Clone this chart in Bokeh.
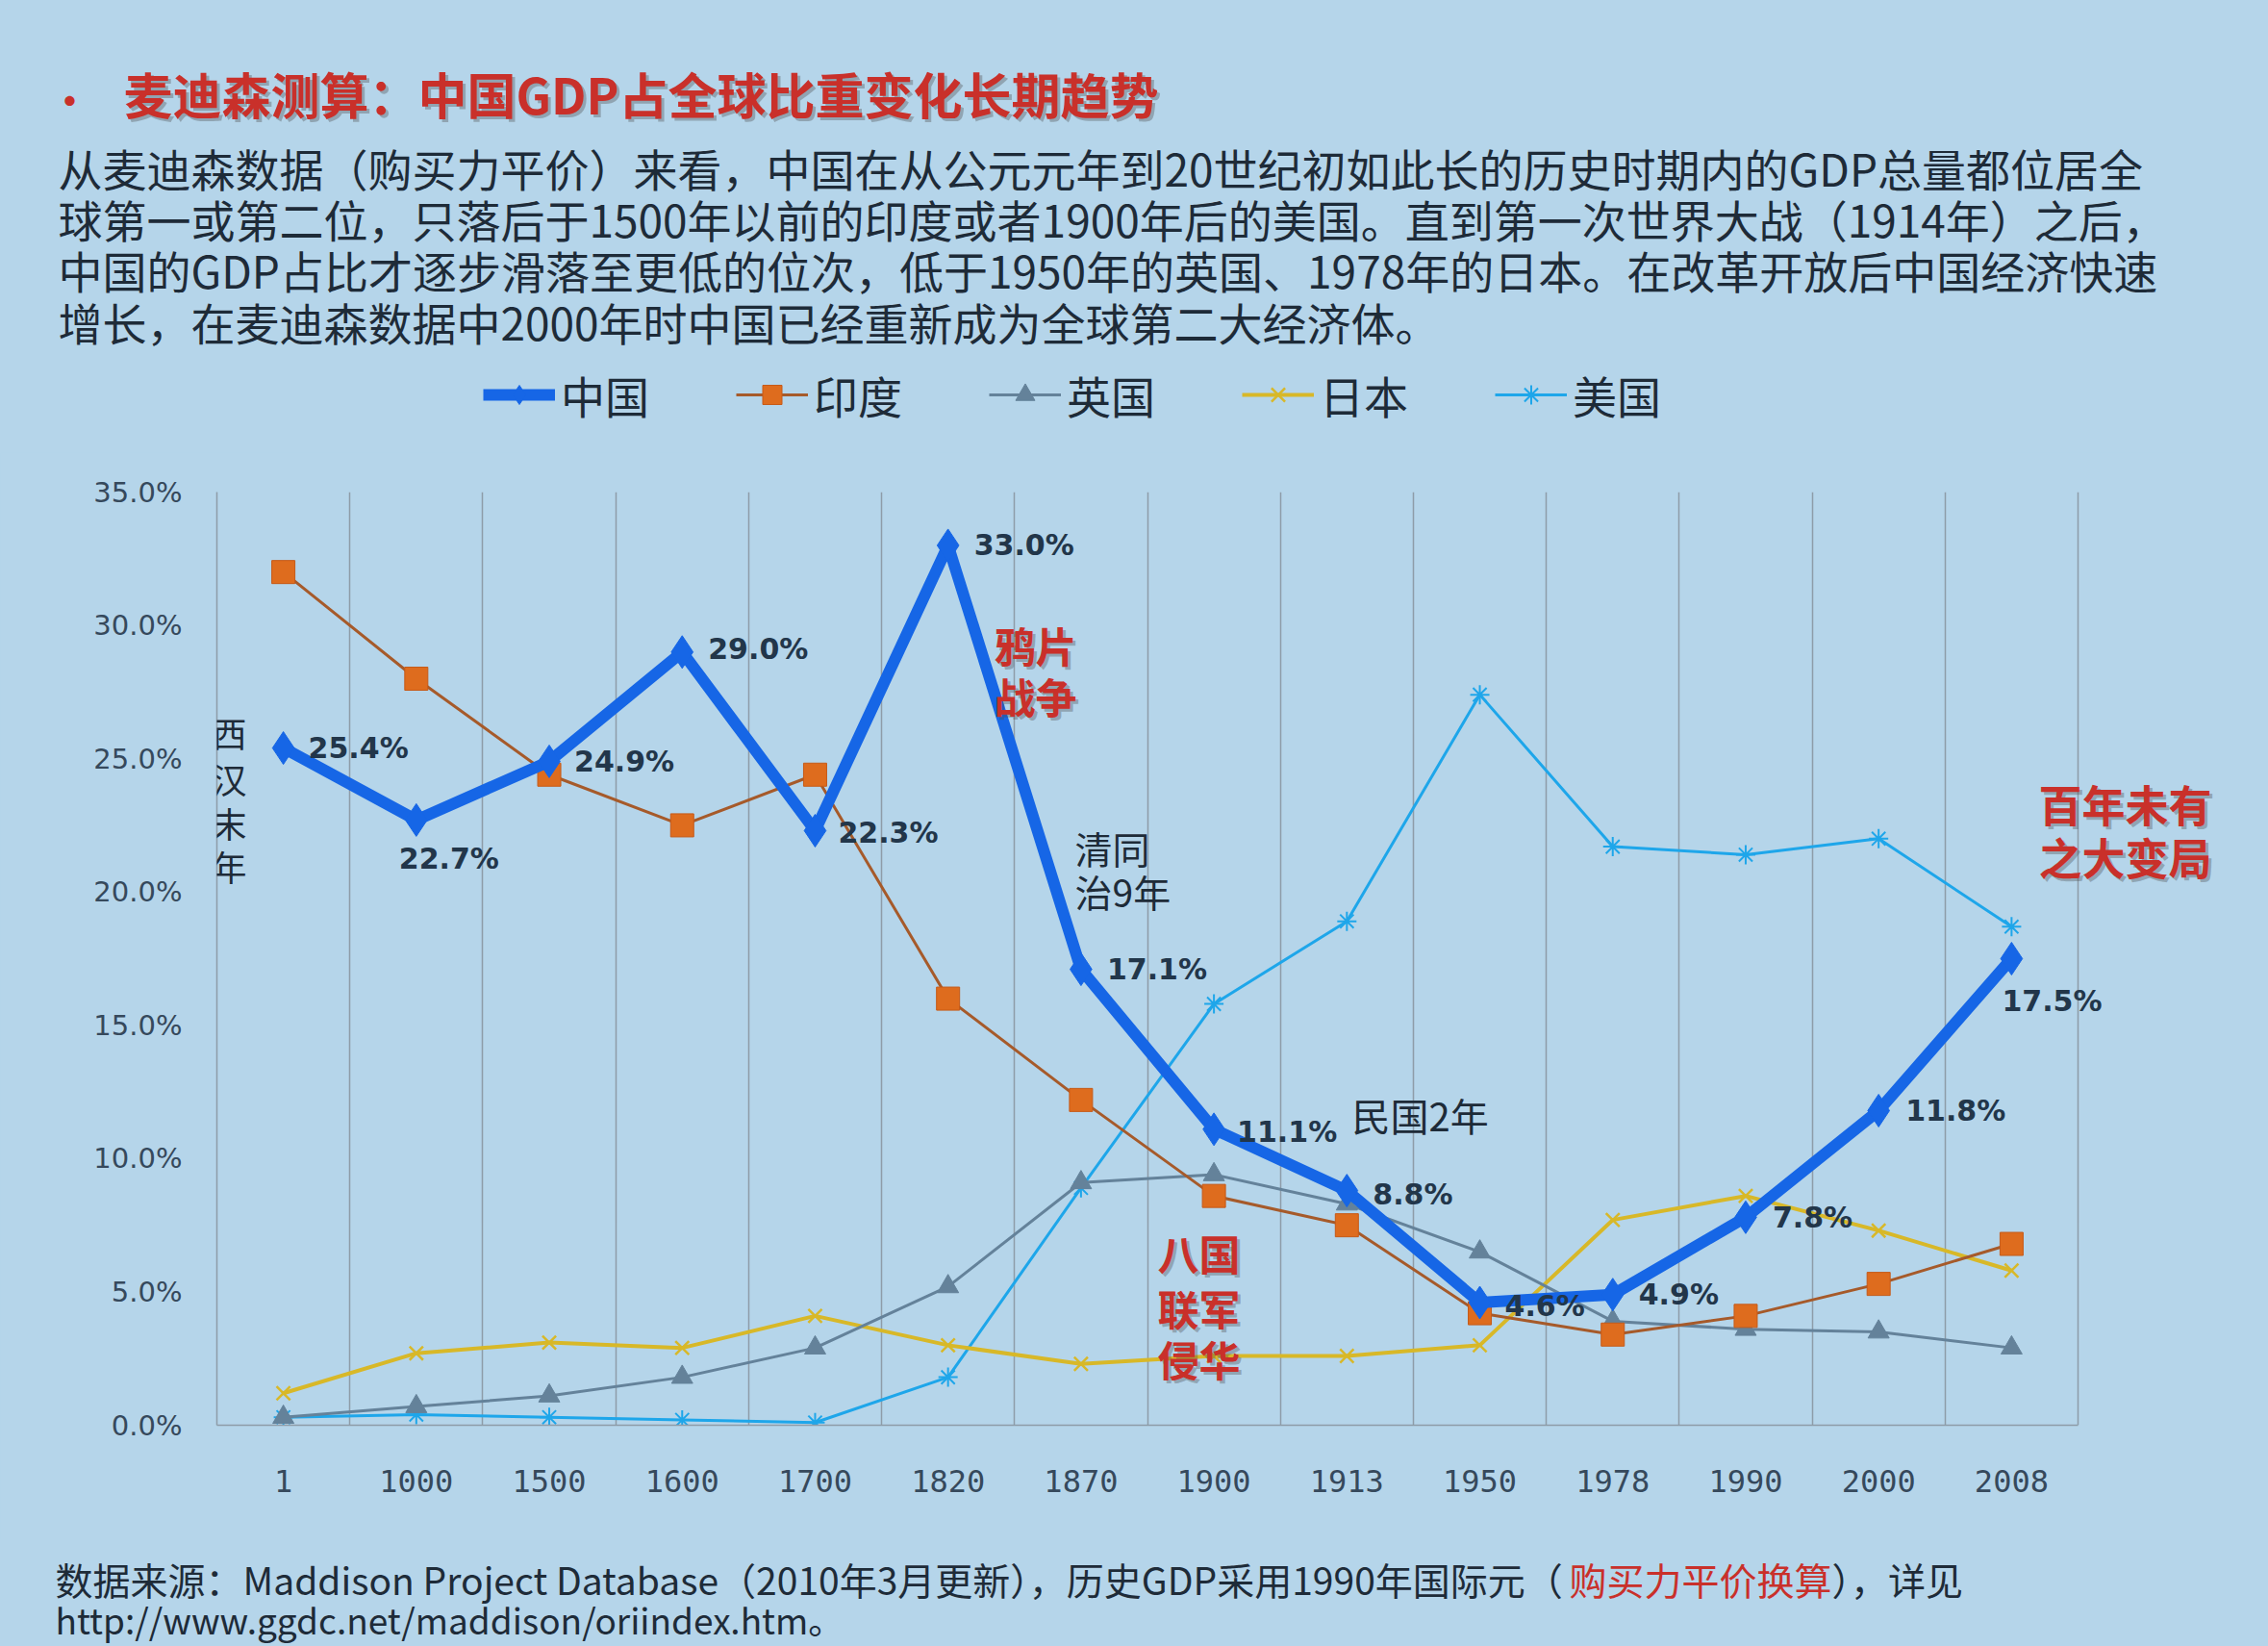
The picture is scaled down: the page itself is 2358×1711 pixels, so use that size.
from bokeh.plotting import figure
from bokeh.layouts import column
from bokeh.models import Range1d, FixedTicker, PrintfTickFormatter, Label, Legend, LegendItem
from bokeh.embed import file_html
from bokeh.resources import INLINE
from bokeh.core.properties import value

# ---------------- data ----------------
years = ["1", "1000", "1500", "1600", "1700", "1820", "1870", "1900", "1913",
         "1950", "1978", "1990", "2000", "2008"]
china = [25.4, 22.7, 24.9, 29.0, 22.3, 33.0, 17.1, 11.1, 8.8, 4.6, 4.9, 7.8, 11.8, 17.5]
india = [32.0, 28.0, 24.4, 22.5, 24.4, 16.0, 12.2, 8.6, 7.5, 4.2, 3.4, 4.1, 5.3, 6.8]
uk = [0.3, 0.7, 1.1, 1.8, 2.9, 5.2, 9.1, 9.4, 8.3, 6.5, 3.9, 3.6, 3.5, 2.9]
japan = [1.2, 2.7, 3.1, 2.9, 4.1, 3.0, 2.3, 2.6, 2.6, 3.0, 7.7, 8.6, 7.3, 5.8]
usa = [0.3, 0.4, 0.3, 0.2, 0.1, 1.8, 8.9, 15.8, 18.9, 27.4, 21.7, 21.4, 22.0, 18.7]
series_names = ["中国", "印度", "英国", "日本", "美国"]
y_ticks = [0, 5, 10, 15, 20, 25, 30, 35]

# ---------------- layout constants (page pixels) ----------------
W, H = 2358, 1711
TOP_H = 470            # header figure height
BOT_Y = 1600           # footer figure starts here
FL, FR, FT, FB = 225, 2160, 511, 1481   # plot area of the chart
FR_EXT = W - 20        # frame extends to the right (for the side annotation)
X0 = -0.5
XN = len(years) - 0.5
X1 = X0 + (XN - X0) * (FR_EXT - FL) / (FR - FL)
Y0, Y1 = 0.0, float(y_ticks[-1])

BG = "#b5d5ea"
GRID = "#8e9ca8"
DARK = "#1e2b38"
RED = "#c9302a"
CJK = "Noto Sans CJK SC"

C_CN = "#1666e6"
C_IN_L = "#a65a2a"
C_IN_M = "#de6c1e"
C_UK = "#64829a"
C_JP = "#d8b828"
C_US = "#1ea6ea"


def px2x(px):
    return X0 + (px - FL) / (FR - FL) * (XN - X0)


def py2y(py):
    return Y0 + (FB - py) / (FB - FT) * (Y1 - Y0)


def style_bare(fig):
    fig.background_fill_color = None
    fig.border_fill_color = BG
    fig.outline_line_color = None
    fig.grid.visible = False


def add_label(fig, txt, x, y, size, color=DARK, bold=False, align="left", shadow=None):
    if shadow is not None:
        sx, sy = shadow
        fig.add_layout(Label(x=sx, y=sy, text=txt, text_font=CJK,
                             text_font_size=f"{size}px", text_color="#4a4a4a", text_alpha=0.35,
                             text_font_style="bold" if bold else "normal",
                             text_align=align, text_baseline="middle"))
    fig.add_layout(Label(x=x, y=y, text=txt, text_font=CJK,
                         text_font_size=f"{size}px", text_color=color,
                         text_font_style="bold" if bold else "normal",
                         text_align=align, text_baseline="middle"))


# ================= header figure =================
top = figure(width=W, height=TOP_H, x_range=Range1d(0, W), y_range=Range1d(TOP_H, 0),
             output_backend="svg", toolbar_location=None, frame_align=False,
             x_axis_location=None, y_axis_location=None, min_border=0)
style_bare(top)


def put_top(txt, px, py, size, color=DARK, bold=False, shadow=False):
    add_label(top, txt, px, py, size, color, bold, "left",
              (px + 3, py + 3) if shadow else None)


put_top("•", 52, 102, 40, RED, bold=True)
put_top("麦迪森测算：中国GDP占全球比重变化长期趋势", 128, 96, 51, RED, bold=True, shadow=True)

para = [
    "从麦迪森数据（购买力平价）来看，中国在从公元元年到20世纪初如此长的历史时期内的GDP总量都位居全",
    "球第一或第二位，只落后于1500年以前的印度或者1900年后的美国。直到第一次世界大战（1914年）之后，",
    "中国的GDP占比才逐步滑落至更低的位次，低于1950年的英国、1978年的日本。在改革开放后中国经济快速",
    "增长，在麦迪森数据中2000年时中国已经重新成为全球第二大经济体。",
]
for line, py in zip(para, [173, 226, 279, 333]):
    put_top(line, 60, py, 46)

# legend swatches: hidden copies of each series' style
swatch_specs = [
    (china, dict(color=C_CN, line_width=12), dict(marker="diamond", size=34, fill_color=C_CN, line_color=C_CN)),
    (india, dict(color=C_IN_L, line_width=3), dict(marker="square", size=22, fill_color=C_IN_M, line_color="#c65a18")),
    (uk, dict(color=C_UK, line_width=3), dict(marker="triangle", size=22, fill_color=C_UK, line_color=C_UK)),
    (japan, dict(color=C_JP, line_width=4), dict(marker="x", size=22, line_color=C_JP, line_width=2.5)),
    (usa, dict(color=C_US, line_width=3), dict(marker="asterisk", size=22, line_color=C_US, line_width=2)),
]
items = []
for name, (vals, lkw, mkw) in zip(series_names, swatch_specs):
    rl = top.line([0], [vals[0]], visible=False, **lkw)
    rm = top.scatter([0], [vals[0]], visible=False, **mkw)
    items.append(LegendItem(label=name, renderers=[rl, rm]))

legend = Legend(items=items, orientation="horizontal", location=(502, TOP_H - 418 - 25))
legend.background_fill_alpha = 0
legend.border_line_alpha = 0
legend.inactive_fill_alpha = 0
legend.padding = 0
legend.margin = 0
legend.spacing = 90
legend.glyph_width = 75
legend.glyph_height = 50
legend.label_height = 50
legend.label_standoff = 6
legend.label_text_font = CJK
legend.label_text_font_size = "46px"
legend.label_text_color = DARK
top.add_layout(legend)

# ================= chart figure =================
p = figure(width=W, height=BOT_Y - TOP_H, x_range=Range1d(X0, X1), y_range=Range1d(Y0, Y1),
           output_backend="svg", toolbar_location=None, frame_align=False,
           min_border_left=FL, min_border_right=W - FR_EXT,
           min_border_top=FT - TOP_H, min_border_bottom=BOT_Y - FB)
p.background_fill_color = None
p.border_fill_color = BG
p.outline_line_color = None

p.ygrid.visible = False
p.xgrid.ticker = FixedTicker(ticks=[i - 0.5 for i in range(len(years) + 1)])
p.xgrid.grid_line_color = GRID
p.xgrid.grid_line_width = 1.5

xs = list(range(len(years)))
p.xaxis.ticker = FixedTicker(ticks=xs)
p.xaxis.major_label_overrides = {i: y for i, y in enumerate(years)}
p.xaxis.bounds = (X0, XN)
p.yaxis.ticker = FixedTicker(ticks=y_ticks)
p.yaxis.formatter = PrintfTickFormatter(format="%.1f%%")
for ax in (p.xaxis[0], p.yaxis[0]):
    ax.axis_line_color = GRID
    ax.axis_line_width = 1.5
    ax.major_tick_line_color = None
    ax.minor_tick_line_color = None
    ax.major_label_text_color = "#36495c"
p.yaxis.major_label_text_font = "DejaVu Sans"
p.yaxis.major_label_text_font_size = "29px"
p.xaxis.major_label_text_font = "DejaVu Sans Mono"
p.xaxis.major_label_text_font_size = "32px"
p.xaxis.major_label_standoff = 40
p.yaxis.major_label_standoff = 30

p.line(xs, usa, color=C_US, line_width=3)
p.scatter(xs, usa, marker="asterisk", size=20, line_color=C_US, line_width=2)
p.line(xs, japan, color=C_JP, line_width=4)
p.scatter(xs, japan, marker="x", size=20, line_color=C_JP, line_width=2.5)
p.line(xs, uk, color=C_UK, line_width=3)
p.scatter(xs, uk, marker="triangle", size=22, fill_color=C_UK, line_color=C_UK)
p.line(xs, india, color=C_IN_L, line_width=3)
p.scatter(xs, india, marker="square", size=24, fill_color=C_IN_M, line_color="#c65a18")
p.line(xs, china, color=C_CN, line_width=12, line_join="round")
p.scatter(xs, china, marker="diamond", size=34, fill_color=C_CN, line_color=C_CN)

lab_dx = [26, -18, 26, 27, 24, 27, 27, 24, 27, 26, 27, 28, 28, -10]
lab_dy = [0, 40, 0, -3, 2, 0, 0, 3, 4, 3, 0, 0, 0, 44]
p.text(x=xs, y=china, text=[f"{v:.1f}%" for v in china], x_offset=lab_dx, y_offset=lab_dy,
       text_align="left", text_baseline="middle", text_font=value("DejaVu Sans"),
       text_font_style="bold", text_font_size="30px", text_color="#22364a")


def put(txt, px, py, size, color=DARK, bold=False, align="left", shadow=False):
    add_label(p, txt, px2x(px), py2y(py), size, color, bold, align,
              (px2x(px + 3), py2y(py + 3)) if shadow else None)


for ch, py in zip("西汉末年", [760, 808, 854, 899]):
    put(ch, 238, py, 36, align="center")

put("鸦片", 1033, 669, 43, RED, bold=True, shadow=True)
put("战争", 1033, 722, 43, RED, bold=True, shadow=True)
put("清同", 1117, 880, 39)
put("治9年", 1117, 925, 39)
put("民国2年", 1405, 1158, 40)
put("八国", 1203, 1301, 43, RED, bold=True, shadow=True)
put("联军", 1203, 1358, 43, RED, bold=True, shadow=True)
put("侵华", 1203, 1411, 43, RED, bold=True, shadow=True)
put("百年未有", 2119, 835, 45, RED, bold=True, shadow=True)
put("之大变局", 2119, 890, 45, RED, bold=True, shadow=True)

# ================= footer figure =================
FOOT_H = H - BOT_Y
bot = figure(width=W, height=FOOT_H, x_range=Range1d(0, W), y_range=Range1d(FOOT_H, 0),
             output_backend="svg", toolbar_location=None, frame_align=False,
             x_axis_location=None, y_axis_location=None, min_border=0)
style_bare(bot)


def put_bot(txt, px, py, size, color=DARK):
    add_label(bot, txt, px, py - BOT_Y, size, color)


put_bot("数据来源：Maddison Project Database（2010年3月更新），历史GDP采用1990年国际元（", 57, 1640, 39)
put_bot("购买力平价换算", 1631, 1640, 39, RED)
put_bot("），详见", 1904, 1640, 39)
put_bot("http://www.ggdc.net/maddison/oriindex.htm。", 57, 1682, 37)

page = column(top, p, bot, spacing=0, styles={"background-color": BG})
open("out.html", "w").write(file_html(page, INLINE))
